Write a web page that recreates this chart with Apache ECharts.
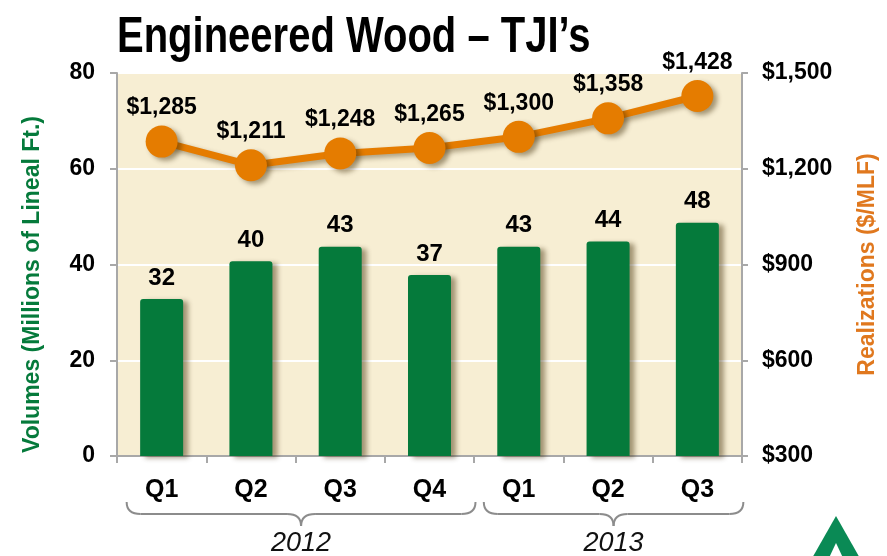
<!DOCTYPE html>
<html>
<head>
<meta charset="utf-8">
<script src="https://cdn.jsdelivr.net/npm/echarts@6/dist/echarts.min.js"></script>
<style>
  html, body { margin: 0; padding: 0; background: #fff; }
  #chart { width: 887px; height: 556px; }
</style>
</head>
<body>
<div id="chart"></div>
<script>
// data
var quarters = ['Q1', 'Q2', 'Q3', 'Q4', 'Q1', 'Q2', 'Q3'];
var volumes = [32.8, 40.7, 43.7, 37.8, 43.7, 44.8, 48.7];   // Millions of lineal ft.
var realizations = [1285, 1211, 1248, 1265, 1300, 1358, 1428]; // $/MLF
var yearNames = ['2012', '2013'];
var yearFirst = [0, 4];
var yearLast = [3, 6];
var volTicks = [0, 80, 20];
var priceTicks = [300, 1500, 300];

var green = '#057a3b';
var orange = '#e57c00';
var font = '"Liberation Sans", Arial, sans-serif';

var myChart = echarts.init(document.getElementById('chart'));

option = {
	animation: false,
	grid: {
		left: 117, right: 145, top: 73, bottom: 100,
		show: true,
		backgroundColor: '#f7eed3',
		borderColor: '#a8a8a8',
		borderWidth: 2
	},
	xAxis: {
		type: 'category',
		data: quarters,
		axisLine: { lineStyle: { color: '#a8a8a8', width: 2 } },
		axisTick: { show: true, length: 7, lineStyle: { color: '#a8a8a8', width: 2 } },
		axisLabel: { margin: 22, fontFamily: font, fontSize: 25, fontWeight: 'bold', color: '#000' }
	},
	yAxis: [{
		type: 'value',
		min: volTicks[0], max: volTicks[1], interval: volTicks[2],
		name: 'Volumes (Millions of Lineal Ft.)',
		nameLocation: 'middle',
		nameGap: 73,
		nameTextStyle: { fontFamily: font, fontSize: 23, fontWeight: 'bold', color: green, padding: [0, 40, 0, 0] },
		axisLine: { show: true, lineStyle: { color: '#a8a8a8', width: 2 } },
		axisTick: { show: true, length: 7, lineStyle: { color: '#a8a8a8', width: 2 } },
		axisLabel: { margin: 22, fontFamily: font, fontSize: 23, fontWeight: 'bold', color: '#000' },
		splitLine: { lineStyle: { color: '#ffffff', width: 2 } }
	}, {
		type: 'value',
		position: 'right',
		min: priceTicks[0], max: priceTicks[1], interval: priceTicks[2],
		name: 'Realizations ($/MLF)',
		nameLocation: 'middle',
		nameGap: 114,
		nameRotate: 90,
		nameTextStyle: { fontFamily: font, fontSize: 23, fontWeight: 'bold', color: '#e0781e' },
		axisLine: { show: true, lineStyle: { color: '#a8a8a8', width: 2 } },
		axisTick: { show: true, length: 6, lineStyle: { color: '#a8a8a8', width: 2 } },
		axisLabel: {
			margin: 20, fontFamily: font, fontSize: 23, fontWeight: 'bold', color: '#000',
			formatter: function (v) { return '$' + v.toLocaleString('en-US'); }
		},
		splitLine: { show: false }
	}],
	series: [{
		type: 'bar',
		data: volumes,
		barWidth: 43,
		itemStyle: {
			color: green,
			borderRadius: [3, 3, 0, 0],
			shadowColor: 'rgba(60,40,0,0.45)',
			shadowBlur: 5,
			shadowOffsetX: 5,
			shadowOffsetY: 2
		},
		label: {
			show: true,
			position: 'top',
			distance: 9,
			fontFamily: font, fontSize: 24, fontWeight: 'bold', color: '#000',
			formatter: function (p) { return Math.floor(p.value); }
		},
		z: 2
	}, {
		type: 'line',
		yAxisIndex: 1,
		data: realizations,
		symbol: 'circle',
		symbolSize: 32,
		lineStyle: {
			color: orange, width: 7,
			shadowColor: 'rgba(60,40,0,0.4)', shadowBlur: 5, shadowOffsetX: 4, shadowOffsetY: 3
		},
		itemStyle: {
			color: orange,
			shadowColor: 'rgba(60,40,0,0.45)', shadowBlur: 5, shadowOffsetX: 4, shadowOffsetY: 3
		},
		label: {
			show: true,
			position: 'top',
			distance: 6,
			fontFamily: font, fontSize: 23, fontWeight: 'bold', color: '#000',
			formatter: function (p) { return '$' + p.value.toLocaleString('en-US'); }
		},
		z: 5
	}]
};
myChart.setOption(option);

// title, braces and year names, drawn as graphic elements
var extras = [{
	type: 'text',
	x: 117, y: 38,
	scaleX: 0.8,
	style: {
		text: 'Engineered Wood \u2013 TJI\u2019s',
		fontFamily: font, fontSize: 50, fontWeight: 'bold',
		fill: '#000', verticalAlign: 'middle'
	}
}];
var brace = { fill: null, stroke: '#8c8c8c', lineWidth: 2 };
for (var i = 0; i < yearNames.length; i++) {
	var a = myChart.convertToPixel({ xAxisIndex: 0 }, yearFirst[i]) - 35;
	var b = myChart.convertToPixel({ xAxisIndex: 0 }, yearLast[i]) + 46;
	var m = (a + b) / 2;
	var y0 = 502, y1 = 514, y2 = 526, r = 14;
	extras.push({ type: 'bezierCurve', shape: { x1: a, y1: y0, cpx1: a, cpy1: y1, x2: a + r, y2: y1 }, style: brace });
	extras.push({ type: 'line', shape: { x1: a + r, y1: y1, x2: m - r, y2: y1 }, style: brace });
	extras.push({ type: 'bezierCurve', shape: { x1: m - r, y1: y1, cpx1: m, cpy1: y1, x2: m, y2: y2 }, style: brace });
	extras.push({ type: 'bezierCurve', shape: { x1: m, y1: y2, cpx1: m, cpy1: y1, x2: m + r, y2: y1 }, style: brace });
	extras.push({ type: 'line', shape: { x1: m + r, y1: y1, x2: b - r, y2: y1 }, style: brace });
	extras.push({ type: 'bezierCurve', shape: { x1: b - r, y1: y1, cpx1: b, cpy1: y1, x2: b, y2: y0 }, style: brace });
	extras.push({
		type: 'text',
		x: m, y: 543,
		style: {
			text: yearNames[i],
			fontFamily: font, fontSize: 27, fontStyle: 'italic',
			fill: '#111', align: 'center', verticalAlign: 'middle'
		}
	});
}
// logo corner
extras.push({
	type: 'polygon',
	shape: { points: [[836, 516], [811, 560], [861, 560]] },
	style: { fill: '#0a8a55' }
});
extras.push({
	type: 'polygon',
	shape: { points: [[836, 543], [828, 560], [844, 560]] },
	style: { fill: '#ffffff' }
});
myChart.setOption({ graphic: extras });
</script>
</body>
</html>
